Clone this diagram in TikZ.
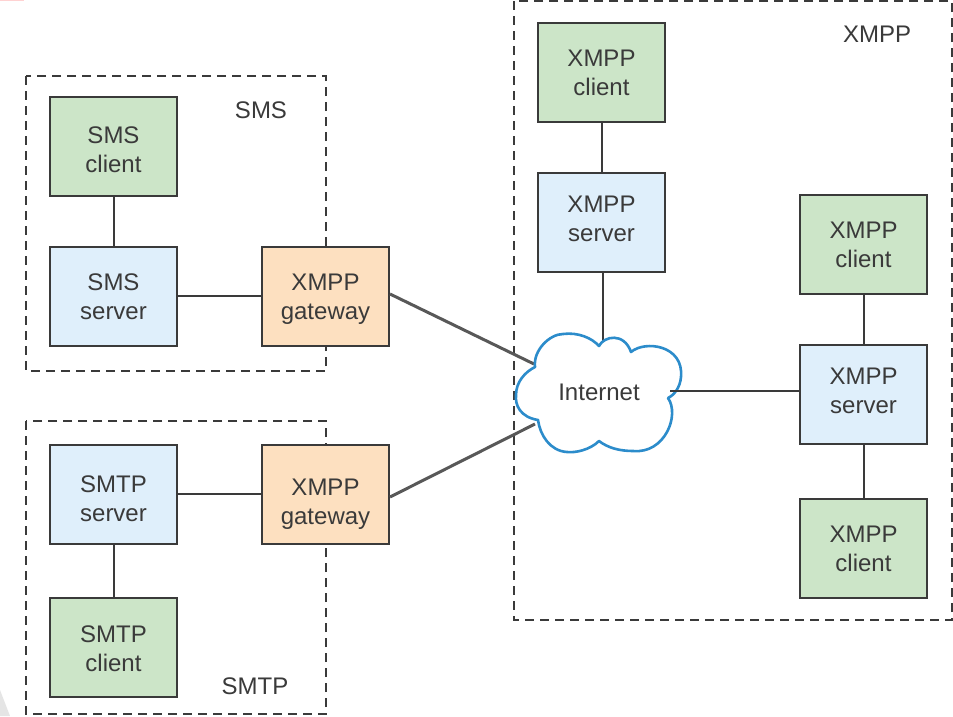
\documentclass[tikz,border=0pt]{standalone}
\usepackage{fontspec}
\setmainfont{Liberation Sans}
\definecolor{gr}{HTML}{CCE5C8}
\definecolor{bl}{HTML}{DFEFFB}
\definecolor{og}{HTML}{FDE0C0}
\definecolor{ln}{HTML}{3A3A3A}
\definecolor{cl}{HTML}{2C8CCB}
\newcommand{\boxtext}[3]{\raisebox{\dimexpr-#1pt-2.5pt\relax}[0pt][0pt]{\begin{tabular}{@{}c@{}}#2\\#3\end{tabular}}}
\begin{document}
\begin{tikzpicture}[x=1pt,y=-1pt,
  boxbase/.style={draw=ln,line width=2pt,minimum width=127pt,minimum height=99pt,inner sep=0pt,text=ln,font=\fontsize{24}{29.5}\selectfont},
  client/.style={boxbase,fill=gr},
  server/.style={boxbase,fill=bl},
  gateway/.style={boxbase,fill=og},
  zone/.style={draw=ln,line width=2.2pt,dash pattern=on 9pt off 6pt},
  wire/.style={draw=ln,line width=2pt},
  trunk/.style={draw=ln!85,line width=3pt},
  lab/.style={text=ln,font=\fontsize{24}{28}\selectfont,inner sep=0pt}]
\useasboundingbox (0,0) rectangle (953,716);
\fill[white] (0,0) rectangle (953,716);
\fill[pink!70] (0,0) rectangle (24,1);
\fill[black!10] (0,690) -- (10,716) -- (0,716) -- cycle;
\draw[zone] (26,76) rectangle (326,371);
\draw[zone] (26,421) rectangle (326,714);
\draw[zone] (514,1) rectangle (952,620);
\node[lab] (smsl) at (261,110) {SMS};
\node[lab] (smtpl) at (255,686) {SMTP};
\node[lab] (xmppl) at (877,34) {XMPP};
\node[client] (c1) at (113.5,146) {\boxtext{10}{SMS}{client}};
\node[server] (s1) at (113.5,296) {\boxtext{7}{SMS}{server}};
\node[gateway] (g1) at (325.5,296) {\boxtext{7}{XMPP}{gateway}};
\node[server] (s2) at (113.5,494) {\boxtext{11}{SMTP}{server}};
\node[client] (c2) at (113.5,647) {\boxtext{8}{SMTP}{client}};
\node[gateway] (g2) at (325.5,494) {\boxtext{14}{XMPP}{gateway}};
\node[client] (c3) at (601.5,72) {\boxtext{7}{XMPP}{client}};
\node[server] (s3) at (601.5,222) {\boxtext{3}{XMPP}{server}};
\node[client] (c4) at (863.5,244) {\boxtext{7}{XMPP}{client}};
\node[server] (s4) at (863.5,394) {\boxtext{3}{XMPP}{server}};
\node[client] (c5) at (863.5,548) {\boxtext{7}{XMPP}{client}};
\coordinate (ctop) at (603,344);
\coordinate (cright) at (670,391);
\coordinate (cul) at (534,364);
\coordinate (cll) at (535,424);
\draw[wire] (c1) -- (s1);
\draw[wire] (s1) -- (g1);
\draw[wire] (s2) -- (g2);
\draw[wire] (s2) -- (c2);
\draw[wire] (c3) -- (s3);
\draw[wire] (c4) -- (s4);
\draw[wire] (s4) -- (c5);
\draw[wire] (s3.south -| ctop) -- (ctop);
\draw[trunk] (g1.east |- 0,294) -- (cul);
\draw[trunk] (g2.east |- 0,497) -- (cll);
\draw[cl,line width=2.6pt,fill=white,line join=round]
 (599,346)
 .. controls (604,336) and (624,332) .. (631,352)
 .. controls (645,340) and (684,345) .. (681,377)
 .. controls (680,388) and (674,395) .. (668,398)
 .. controls (680,415) and (665,454) .. (633,451)
 .. controls (620,451) and (608,448) .. (599,441)
 .. controls (590,450) and (575,453) .. (567,452)
 .. controls (550,451) and (540,435) .. (538,420)
 .. controls (520,417) and (515,405) .. (516,395)
 .. controls (516,382) and (525,372) .. (535,367)
 .. controls (533,350) and (550,334) .. (563,334)
 .. controls (578,332) and (592,338) .. (599,346) -- cycle;
\draw[wire] (cright) -- (cright -| s4.west);
\node[lab] (net) at (599,392) {Internet};
\end{tikzpicture}
\end{document}
